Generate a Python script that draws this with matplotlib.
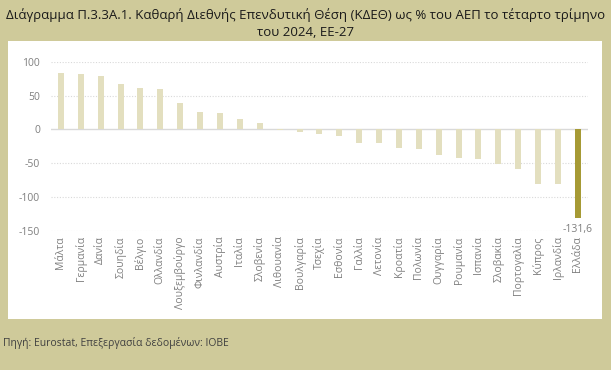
# Διάγραμμα ΚΔΕΘ ως % του ΑΕΠ, ΕΕ-27
import matplotlib.pyplot as plt
from matplotlib.patches import Rectangle

plt.rcParams['font.family'] = ['Open Sans', 'DejaVu Sans']

# Δεδομένα
countries = ['Μάλτα', 'Γερμανία', 'Δανία', 'Σουηδία', 'Βέλγιο', 'Ολλανδία',
             'Λουξεμβούργο', 'Φινλανδία', 'Αυστρία', 'Ιταλία', 'Σλοβενία',
             'Λιθουανία', 'Βουλγαρία', 'Τσεχία', 'Εσθονία', 'Γαλλία', 'Λετονία',
             'Κροατία', 'Πολωνία', 'Ουγγαρία', 'Ρουμανία', 'Ισπανία', 'Σλοβακία',
             'Πορτογαλία', 'Κύπρος', 'Ιρλανδία', 'Ελλάδα']
niip = [82.8, 81.8, 78.8, 66.6, 60.6, 60.0, 38.5, 26.0, 24.6, 15.7, 8.9,
        -0.5, -3.5, -7.0, -9.5, -19.8, -20.3, -27.2, -29.1, -38.0, -42.5,
        -43.9, -51.8, -58.7, -80.4, -80.4, -131.6]
yticks = [100, 50, 0, -50, -100, -150]

BG = '#CFCA9A'
LIGHT = '#E3DFBF'
DARK = '#A69A35'
GRAY = '#7F7F7F'

fig = plt.figure(figsize=(6.11, 3.70), dpi=100, facecolor=BG)

# Λευκό πλαίσιο
fig.patches.append(Rectangle((0.0131, 0.1378), 0.972, 0.751,
                             transform=fig.transFigure, facecolor='white',
                             edgecolor='none', zorder=-5))

ax = fig.add_axes([0.0835, 0.3765, 0.8785, 0.4567])
ax.set_facecolor('none')
ax.set_zorder(1)

colors = [DARK if c == 'Ελλάδα' else LIGHT for c in countries]
x = range(len(countries))
ax.bar(x, niip, width=0.3, color=colors, zorder=3)

ax.set_xlim(-0.5, len(countries) - 0.5)
ax.set_ylim(-150, 100)
ax.set_yticks(yticks)
ax.set_yticklabels([str(t) for t in yticks])
ax.set_xticks(list(x))
ax.set_xticklabels(countries, rotation=90)

for t in yticks:
    if t == 0:
        ax.axhline(0, color='#D9D9D9', lw=1.0, zorder=2)
    else:
        ax.axhline(t, color='#D9D9D9', lw=0.8, ls=(0, (1, 1.5)), zorder=1)

for s in ax.spines.values():
    s.set_visible(False)
ax.tick_params(axis='both', length=0, colors=GRAY, labelsize=7.5)
ax.tick_params(axis='y', pad=8)
ax.tick_params(axis='x', pad=4)

# Ετικέτα τιμής Ελλάδας
gi = countries.index('Ελλάδα')
ax.annotate('-131,6', (gi, niip[gi]), xytext=(0, -4), textcoords='offset points',
            ha='center', va='top', fontsize=7.5, color=GRAY)

fig.text(0.5, 0.96, 'Διάγραμμα Π.3.3Α.1. Καθαρή Διεθνής Επενδυτική Θέση (ΚΔΕΘ) ως % του ΑΕΠ το τέταρτο τρίμηνο',
         ha='center', va='center', fontsize=9.5, color='#1A1A1A')
fig.text(0.5, 0.911, 'του 2024, ΕΕ-27', ha='center', va='center', fontsize=9.5, color='#1A1A1A')

fig.text(0.005, 0.073, 'Πηγή: Eurostat, Επεξεργασία δεδομένων: ΙΟΒΕ', ha='left', va='center',
         fontsize=7.5, color='#404040')

fig.savefig('out.png', dpi=100, facecolor=BG)
